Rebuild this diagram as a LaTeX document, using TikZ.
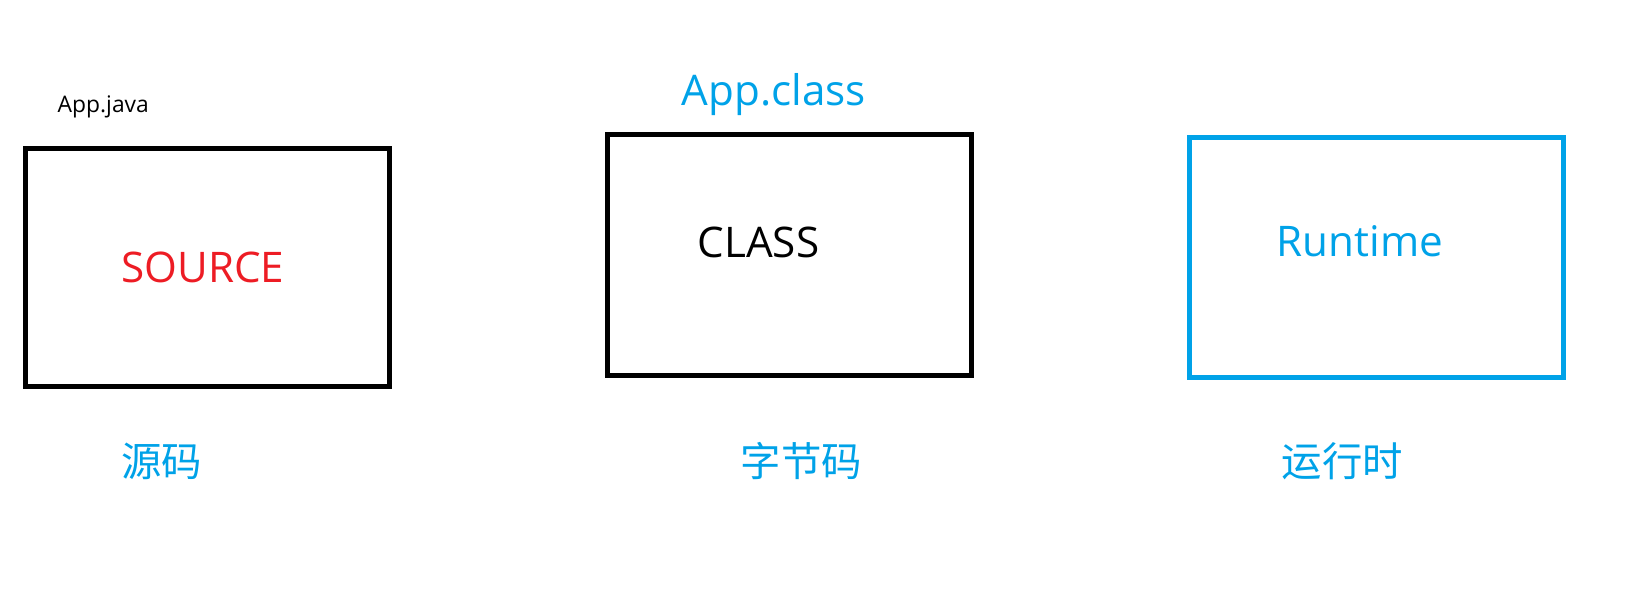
\documentclass[tikz,border=0pt]{standalone}
\usepackage{fontspec}
\setmainfont{Open Sans}
\newfontfamily\cjk{Noto Sans CJK SC}
\usetikzlibrary{positioning}
\definecolor{paintblue}{HTML}{00A2E8}
\definecolor{paintred}{HTML}{ED1C24}
\tikzset{
  box/.style={draw, line width=1.42pt, inner sep=0pt, minimum width=3.64cm, minimum height=2.4cm},
  word/.style={inner sep=0pt, anchor=base, font=\fontsize{12}{14}\selectfont},
  stage/.style={inner sep=0pt, text=paintblue, font=\cjk\fontsize{11.5}{13}\selectfont},
}

\begin{document}
\begin{tikzpicture}
      \useasboundingbox (0,0) rectangle (16.48,5.88);
      \node[box, minimum height=2.375cm] (src) at (2.075,3.2075) {};
      \node[box, minimum height=2.405cm] (cls) at (7.895,3.3325) {};
      \node[box, draw=paintblue, minimum width=3.74cm, minimum height=2.395cm] (rt) at (13.765,3.3075) {};

      \node[word, anchor=base west, font=\fontsize{6.5}{8}\selectfont] (java) at (0.57,4.76) {App.java};
      \node[word, text=paintred] (srctext) at (2.03,3.06) {SOURCE};
      \node[word, text=paintblue] (clsfile) at (7.74,4.83) {App.class};
      \node[word] (clstext) at (7.585,3.31) {CLASS};
      \node[word, text=paintblue] (rttext) at (13.60,3.32) {Runtime};

      \node[stage] (srclabel) at (1.615,1.27) {源码};
      \node[stage] (clslabel) at (8.015,1.27) {字节码};
      \node[stage] (rtlabel) at (13.425,1.27) {运行时};
    \end{tikzpicture}
\end{document}
